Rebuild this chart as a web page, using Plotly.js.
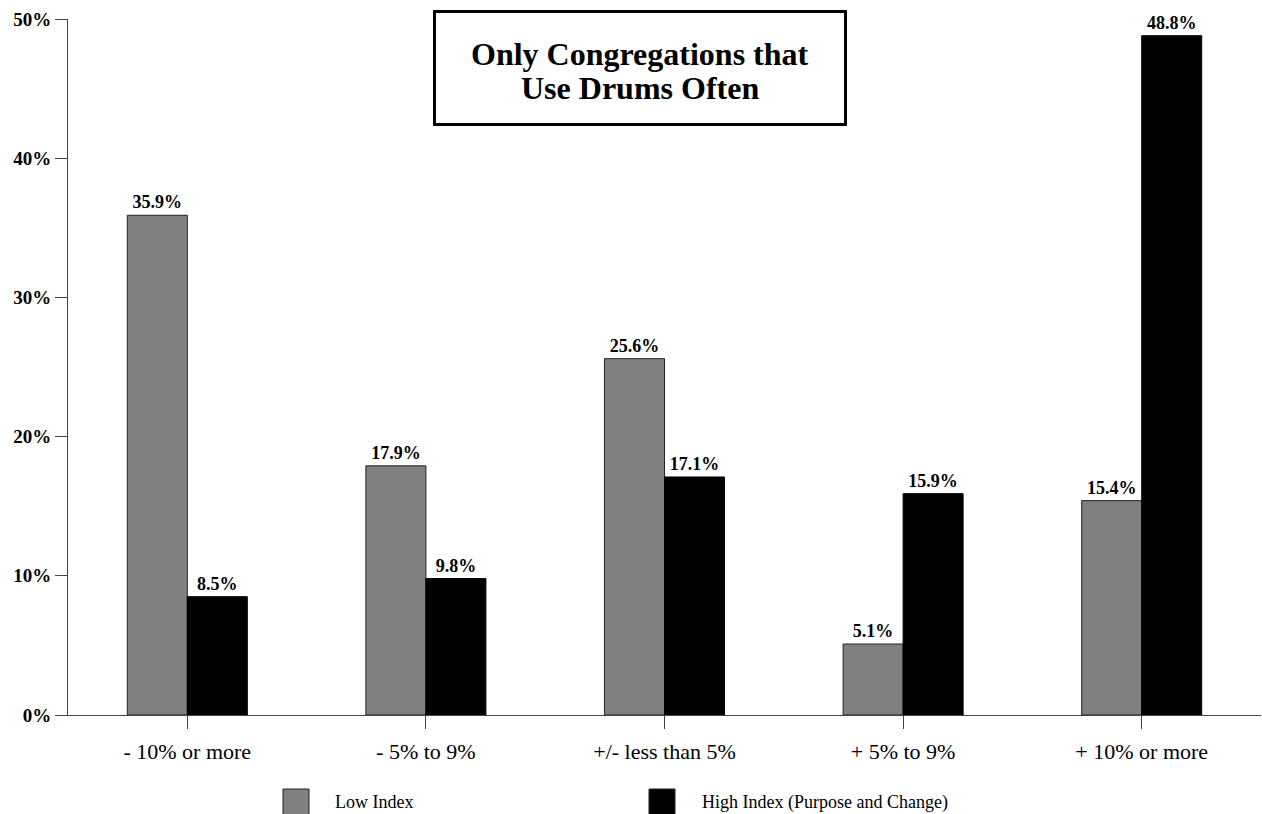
<!DOCTYPE html>
<html>
<head>
<meta charset="utf-8">
<script src="https://cdn.plot.ly/plotly-3.0.1.min.js"></script>
<style>html,body{margin:0;padding:0;background:#fff;}#chart{width:1262px;height:814px;}</style>
</head>
<body>
<div id="chart"></div>
<script>
const categories = ["- 10% or more", "- 5% to 9%", "+/- less than 5%", "+ 5% to 9%", "+ 10% or more"];
const lowIndex = [35.9, 17.9, 25.6, 5.1, 15.4];
const highIndex = [8.5, 9.8, 17.1, 15.9, 48.8];
const seriesNames = ["Low Index", "High Index (Purpose and Change)"];
const seriesColors = ["#808080", "#000000"];
const yTickVals = [0, 10, 20, 30, 40, 50];
const yTickText = ["0%", "10%", "20%", "30%", "40%", "50%"];
const titleLines = ["Only Congregations that", "Use Drums Often"];

const serif = "Liberation Serif, Times New Roman, serif";
const labelFont = {family: serif, size: 18, color: "#000", weight: "bold"};

// plot geometry (pixels) used to place paper-referenced decorations
const W = 1262, H = 814, ML = 68, MR = 1, MT = 19, MB = 99;
const PW = W - ML - MR, PH = H - MT - MB;
const px = x => (x - ML) / PW;
const py = y => (H - MB - y) / PH;

const traces = [
  {
    type: "bar", name: seriesNames[0], x: categories, y: lowIndex,
    marker: {color: seriesColors[0], line: {color: "#222", width: 1}},
    text: lowIndex.map(v => v.toFixed(1) + "%"), textposition: "outside",
    textfont: labelFont, cliponaxis: false, hoverinfo: "skip", showlegend: false
  },
  {
    type: "bar", name: seriesNames[1], x: categories, y: highIndex,
    marker: {color: seriesColors[1], line: {color: "#000", width: 1}},
    text: highIndex.map(v => v.toFixed(1) + "%"), textposition: "outside",
    textfont: labelFont, cliponaxis: false, hoverinfo: "skip", showlegend: false
  }
];

// manual legend (large square swatches, as in the reference)
const legendItems = [
  {sx: 283, tx: 333},
  {sx: 649, tx: 700}
];
const shapes = legendItems.map((it, i) => ({
  type: "rect", xref: "paper", yref: "paper",
  x0: px(it.sx), x1: px(it.sx + 26), y0: py(789), y1: py(815),
  fillcolor: seriesColors[i], line: {color: "#222", width: 1}
}));
// title box
shapes.push({
  type: "rect", xref: "paper", yref: "paper",
  x0: px(434.5), x1: px(845.5), y0: py(124.5), y1: py(11.5),
  fillcolor: "#fff", line: {color: "#000", width: 3}, layer: "above"
});
const legendLabels = legendItems.map((it, i) => ({
  text: seriesNames[i], xref: "paper", yref: "paper",
  x: px(it.tx), y: py(802), xanchor: "left", yanchor: "middle",
  showarrow: false, font: {family: serif, size: 18, color: "#000"}
}));
const titleAnnots = titleLines.map((t, i) => ({
  text: t, xref: "paper", yref: "paper",
  x: px(640), y: py(i === 0 ? 54 : 88), xanchor: "center", yanchor: "middle",
  showarrow: false, font: {family: serif, size: 32, color: "#000", weight: "bold"}
}));

const layout = {
  width: W, height: H,
  margin: {l: ML, r: MR, t: MT, b: MB, pad: 0},
  paper_bgcolor: "#fff", plot_bgcolor: "#fff",
  barmode: "group", bargap: 0.497, bargroupgap: 0,
  showlegend: false,
  xaxis: {
    type: "category", showgrid: false, zeroline: false,
    showline: true, linecolor: "#444", linewidth: 1,
    ticks: "outside", ticklen: 13, tickcolor: "#444", tickwidth: 1,
    ticklabelstandoff: 4,
    tickfont: {family: serif, size: 22, color: "#000"},
    fixedrange: true
  },
  xaxis2: {
    overlaying: "x", anchor: "y", type: "linear", range: [-0.5, categories.length - 0.5],
    tickmode: "array", tickvals: categories.slice(1).map((c, i) => i + 0.5),
    ticks: "outside", ticklen: 3, tickcolor: "#444", tickwidth: 1,
    showticklabels: false, showline: false, showgrid: false, zeroline: false, fixedrange: true
  },
  yaxis: {
    range: [0, 50], showgrid: false, zeroline: false,
    showline: true, linecolor: "#444", linewidth: 1,
    ticks: "outside", ticklen: 12, tickcolor: "#444", tickwidth: 1,
    tickvals: yTickVals, ticktext: yTickText,
    tickfont: {family: serif, size: 19, color: "#000", weight: "bold"},
    fixedrange: true
  },
  shapes: shapes,
  annotations: titleAnnots.concat(legendLabels)
};

Plotly.newPlot("chart", traces, layout, {displayModeBar: false, staticPlot: true});
</script>
</body>
</html>
